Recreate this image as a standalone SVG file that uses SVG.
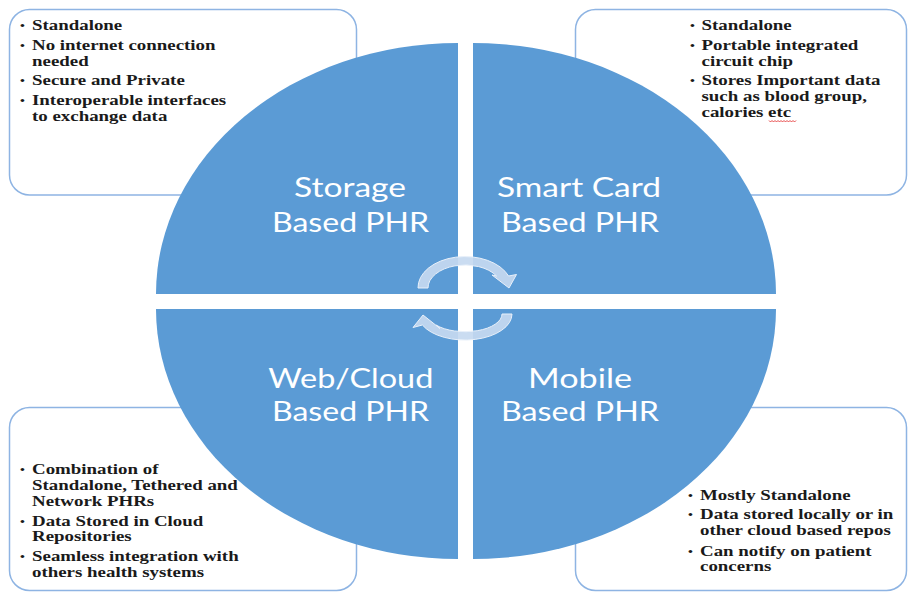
<svg xmlns="http://www.w3.org/2000/svg" width="909" height="592" viewBox="0 0 909 592">
<style>
.box{fill:#ffffff;stroke:#8EB4E3;stroke-width:1.5}
.q{fill:#5B9BD5}
.lbl{font-family:Lato,"Open Sans","Liberation Sans",sans-serif;font-size:26px;fill:#ffffff;text-anchor:middle}
.t{font-family:"Liberation Serif","Times New Roman",serif;font-size:15px;font-weight:bold;fill:#1a1a1a}
.b{font-family:"Liberation Serif","Times New Roman",serif;font-size:11px;font-weight:bold;fill:#1a1a1a}
.arr{fill:#C6D9F0;fill-opacity:0.92;stroke:#E8F0FA;stroke-width:1}
</style>
<rect width="909" height="592" fill="#ffffff"/>

<g id="box-storage">
<rect class="box" x="9.5" y="9.5" width="347" height="185.5" rx="20"/>
<g transform="translate(32,0) scale(1.26,1)">
<text class="b" x="-9.5" y="29">•</text>
<text class="t" x="0" y="30">Standalone</text>
<text class="b" x="-9.5" y="49">•</text>
<text class="t" x="0" y="50">No internet connection</text>
<text class="t" x="0" y="66.5">needed</text>
<text class="b" x="-9.5" y="84.5">•</text>
<text class="t" x="0" y="85.5">Secure and Private</text>
<text class="b" x="-9.5" y="104">•</text>
<text class="t" x="0" y="105">Interoperable interfaces</text>
<text class="t" x="0" y="121">to exchange data</text>
</g>
</g>

<g id="box-smartcard">
<rect class="box" x="575.5" y="9.5" width="331" height="185.5" rx="20"/>
<g transform="translate(701.5,0) scale(1.26,1)">
<text class="b" x="-9.1" y="29.5">•</text>
<text class="t" x="0" y="30.5">Standalone</text>
<text class="b" x="-9.1" y="49">•</text>
<text class="t" x="0" y="50">Portable integrated</text>
<text class="t" x="0" y="66">circuit chip</text>
<text class="b" x="-9.1" y="84">•</text>
<text class="t" x="0" y="85">Stores Important data</text>
<text class="t" x="0" y="101">such as blood group,</text>
<text class="t" x="0" y="117.5">calories etc</text>
</g>
<path d="M769 120.5 l1.5 1.5 l1.5 -1.5 l1.5 1.5 l1.5 -1.5 l1.5 1.5 l1.5 -1.5 l1.5 1.5 l1.5 -1.5 l1.5 1.5 l1.5 -1.5 l1.5 1.5 l1.5 -1.5 l1.5 1.5 l1.5 -1.5 l1.5 1.5 l1.5 -1.5 l1.5 1.5 l1.5 -1.5" fill="none" stroke="#e02020" stroke-width="0.8"/>
</g>

<g id="box-webcloud">
<rect class="box" x="9.5" y="407.5" width="347" height="183" rx="20"/>
<g transform="translate(32,0) scale(1.26,1)">
<text class="b" x="-9.5" y="473">•</text>
<text class="t" x="0" y="474">Combination of</text>
<text class="t" x="0" y="490.5">Standalone, Tethered and</text>
<text class="t" x="0" y="506">Network PHRs</text>
<text class="b" x="-9.5" y="525.5">•</text>
<text class="t" x="0" y="526.5">Data Stored in Cloud</text>
<text class="t" x="0" y="541.5">Repositories</text>
<text class="b" x="-9.5" y="560.5">•</text>
<text class="t" x="0" y="561.5">Seamless integration with</text>
<text class="t" x="0" y="577">others health systems</text>
</g>
</g>

<g id="box-mobile">
<rect class="box" x="575.5" y="407.5" width="331" height="183" rx="20"/>
<g transform="translate(700,0) scale(1.26,1)">
<text class="b" x="-9.5" y="499.5">•</text>
<text class="t" x="0" y="500.5">Mostly Standalone</text>
<text class="b" x="-9.5" y="518.5">•</text>
<text class="t" x="0" y="519.5">Data stored locally or in</text>
<text class="t" x="0" y="535">other cloud based repos</text>
<text class="b" x="-9.5" y="555">•</text>
<text class="t" x="0" y="556">Can notify on patient</text>
<text class="t" x="0" y="571.5">concerns</text>
</g>
</g>

<g id="node-storage">
<path class="q" d="M458 294 L156 294 A302 251 0 0 1 458 43 Z"/>
<text class="lbl" x="350" y="197" textLength="112" lengthAdjust="spacingAndGlyphs">Storage</text>
<text class="lbl" x="350.5" y="232" textLength="157" lengthAdjust="spacingAndGlyphs">Based PHR</text>
</g>
<g id="node-smartcard">
<path class="q" d="M473 294 L473 43 A303 251 0 0 1 776 294 Z"/>
<text class="lbl" x="579" y="197" textLength="164" lengthAdjust="spacingAndGlyphs">Smart Card</text>
<text class="lbl" x="580" y="232" textLength="158" lengthAdjust="spacingAndGlyphs">Based PHR</text>
</g>
<g id="node-webcloud">
<path class="q" d="M458 309 L458 559 A302 250 0 0 1 156 309 Z"/>
<text class="lbl" x="350.8" y="388" textLength="165" lengthAdjust="spacingAndGlyphs">Web/Cloud</text>
<text class="lbl" x="350.5" y="421" textLength="157" lengthAdjust="spacingAndGlyphs">Based PHR</text>
</g>
<g id="node-mobile">
<path class="q" d="M473 309 L776 309 A303 250 0 0 1 473 559 Z"/>
<text class="lbl" x="580" y="388" textLength="104" lengthAdjust="spacingAndGlyphs">Mobile</text>
<text class="lbl" x="580" y="421" textLength="158" lengthAdjust="spacingAndGlyphs">Based PHR</text>
</g>

<g id="connectors">
<path class="arr" d="M418 288 A47 31 0 0 1 508.6 276 L516.5 274.5 L509 288 L492 275 L496.6 276 A37 23 0 0 0 428 288 Z"/>
<path class="arr" d="M512 314 A47 26 0 0 1 422.4 325 L413 327.5 L423 315 L440 328.5 L436 325 A37 17.7 0 0 0 502 314 Z"/>
</g>
</svg>
